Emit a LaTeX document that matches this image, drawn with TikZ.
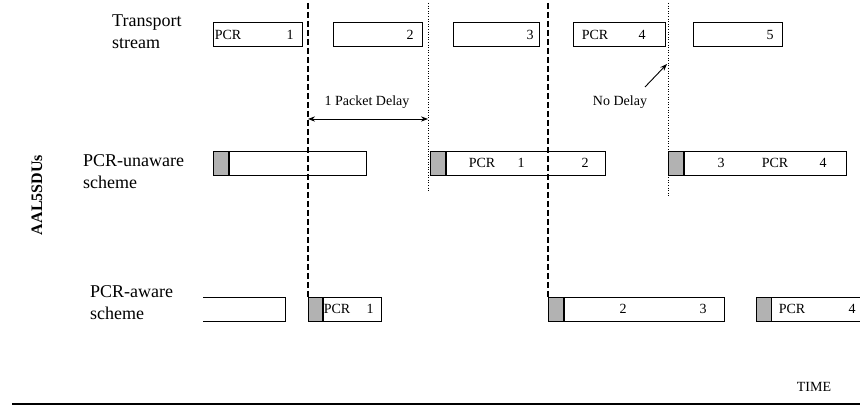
\documentclass[tikz,border=0pt]{standalone}
\usepackage{fontspec}
\setmainfont{Liberation Serif}
\usetikzlibrary{arrows.meta, positioning}

\tikzset{
  pkt/.style={draw, line width=0.8pt, anchor=north west, minimum height=24pt, inner sep=0pt},
  hdr/.style={pkt, fill=gray!60, minimum width=15pt},
  rowlbl/.style={anchor=west, align=left, inner sep=0pt, font=\fontsize{18}{22}\selectfont},
  txt/.style={inner sep=0pt, font=\fontsize{14}{15}\selectfont},
  bigcut/.style={line width=1.2pt, dash pattern=on 6pt off 3pt},
  smallcut/.style={line width=0.6pt, dotted},
}

\begin{document}
\begin{tikzpicture}[x=1pt, y=-1pt]
  \useasboundingbox (0,0) rectangle (860,419);
  % row labels
  \node[rowlbl] (tslbl) at (112,32) {Transport\\stream};
  \node[rowlbl] (unlbl) at (83,172) {PCR-unaware\\scheme};
  \node[rowlbl] (awlbl) at (90,303) {PCR-aware\\scheme};
  \node[rotate=90, font=\fontsize{16}{18}\selectfont\bfseries] (sdus) at (37,195) {AAL5SDUs};

  % transport stream packets
  \foreach \i/\w/\nx in {1/89/290, 2/89/410, 3/86/530, 4/92/642, 5/89/770} {
    \node[pkt, minimum width=\w] (ts\i) at ({213+120*(\i-1)},22) {};
    \node[txt] (ts\i num) at (\nx,34.5) {\i};
  }
  \node[txt] (ts1pcr) at (228,34.5) {PCR};
  \node[txt] (ts4pcr) at (595,34.5) {PCR};

  % PCR-unaware scheme
  \node[hdr] (un1h) at (213,151) {};
  \node[pkt, minimum width=137] (un1) at (un1h.north east) {};
  \node[hdr] (un2h) at (430,151) {};
  \node[pkt, minimum width=159] (un2) at (un2h.north east) {};
  \node[hdr] (un3h) at (668,151) {};
  \node[pkt, minimum width=162] (un3) at (un3h.north east) {};
  \node[txt] (un2pcr) at (482,162.5) {PCR};
  \node[txt] (un2a) at (521,162.5) {1};
  \node[txt] (un2b) at (585,162.5) {2};
  \node[txt] (un3a) at (721,162.5) {3};
  \node[txt] (un3pcr) at (775,162.5) {PCR};
  \node[txt] (un3b) at (823,162.5) {4};

  % PCR-aware scheme
  \node[pkt, draw=none, minimum width=82] (aw0) at (203,297) {};
  \draw[line width=0.8pt] (aw0.north west) -- (aw0.north east) -- (aw0.south east) -- (aw0.south west);
  \node[hdr, minimum width=14] (aw1h) at (308,297) {};
  \node[pkt, minimum width=58] (aw1) at (aw1h.north east) {};
  \node[hdr] (aw2h) at (548,297) {};
  \node[pkt, minimum width=160] (aw2) at (aw2h.north east) {};
  \node[hdr] (aw3h) at (756,297) {};
  \node[pkt, draw=none, minimum width=95] (aw3) at (aw3h.north east) {};
  \draw[line width=0.8pt] (aw3.north west) -- (aw3.north east);
  \draw[line width=0.8pt] (aw3.south west) -- (aw3.south east);
  \node[txt] (aw1pcr) at (337,309) {PCR};
  \node[txt] (aw1a) at (370,309) {1};
  \node[txt] (aw2a) at (623,309) {2};
  \node[txt] (aw2b) at (703,309) {3};
  \node[txt] (aw3pcr) at (792,309) {PCR};
  \node[txt] (aw3a) at (852,309) {4};

  % time marks
  \coordinate (c1) at (308,3);
  \coordinate (c2) at (428,3);
  \coordinate (c2b) at (428,192);
  \coordinate (c3) at (548,3);
  \coordinate (c4) at (668,3);
  \coordinate (c4b) at (668,197);
  \draw[bigcut] (c1) -- (aw1h.north west);
  \draw[bigcut] (c3) -- (aw2h.north west);
  \draw[smallcut] (c2) -- (c2b);
  \draw[smallcut] (c4) -- (c4b);

  % delays
  \coordinate (pd1) at (308,119);
  \coordinate (pd2) at (428,119);
  \draw[{Stealth[length=7pt]}-{Stealth[length=7pt]}, line width=0.9pt] (pd1) -- (pd2);
  \node[txt] (pdlbl) at (367,102) {1 Packet Delay};
  \node[txt] (ndlbl) at (620,102) {No Delay};
  \coordinate (ndtail) at (645,87);
  \coordinate (ndtip) at (667,64);
  \draw[-{Stealth[length=7pt]}, line width=0.9pt] (ndtail) -- (ndtip);

  % time axis
  \node[txt] (time) at (814,387) {TIME};
  \coordinate (bl) at (12,404);
  \coordinate (br) at (860,404);
  \draw[line width=2.2pt] (bl) -- (br);
\end{tikzpicture}
\end{document}
